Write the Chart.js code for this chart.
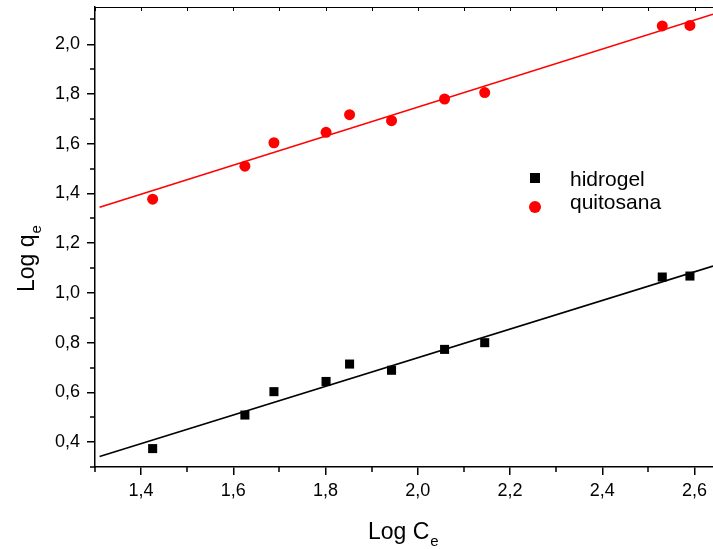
<!DOCTYPE html>
<html>
<head>
<meta charset="utf-8">
<script src="https://cdn.jsdelivr.net/npm/chart.js@4.4.1/dist/chart.umd.min.js"></script>
<style>
  html, body { margin: 0; padding: 0; background: #fff; overflow: hidden; }
  canvas { display: block; }
</style>
</head>
<body>
<canvas id="grafica" width="713" height="549"></canvas>
<script>
// datos
const logCe = [1.425, 1.625, 1.688, 1.801, 1.852, 1.943, 2.058, 2.145, 2.530, 2.590];
const logQeHidrogel = [0.374, 0.509, 0.603, 0.644, 0.714, 0.689, 0.773, 0.800, 1.064, 1.068];
const logQeQuitosana = [1.377, 1.510, 1.604, 1.646, 1.717, 1.693, 1.780, 1.806, 2.074, 2.076];

// rectas de ajuste (extremos)
const ajusteX = [1.31, 2.64];
const ajusteHidrogel = [0.342, 1.108];
const ajusteQuitosana = [1.345, 2.121];

const ticksX = [1.4, 1.6, 1.8, 2.0, 2.2, 2.4, 2.6];
const ticksY = [0.4, 0.6, 0.8, 1.0, 1.2, 1.4, 1.6, 1.8, 2.0];

const fmt = v => Number(v).toFixed(1).replace('.', ',');
const puntos = (xs, ys) => xs.map((x, i) => ({ x: x, y: ys[i] }));

Chart.defaults.font.family = '"Liberation Sans", Arial, sans-serif';
Chart.defaults.color = '#000';

function textoSub(ctx, main, sub, size, subSize) {
  ctx.font = size + 'px "Liberation Sans", Arial, sans-serif';
  ctx.fillText(main, 0, 0);
  const w = ctx.measureText(main).width;
  ctx.font = subSize + 'px "Liberation Sans", Arial, sans-serif';
  ctx.fillText(sub, w + 1, 7);
}

const marco = {
  id: 'marco',
  afterDraw(chart) {
    const { ctx, chartArea: a, scales: { x, y } } = chart;
    ctx.save();
    ctx.strokeStyle = '#000';
    ctx.lineWidth = 1;

    // borde superior con marcas hacia dentro
    ctx.beginPath();
    ctx.moveTo(a.left, a.top + 0.5);
    ctx.lineTo(a.right, a.top + 0.5);
    for (let v = 1.3; v <= x.max + 1e-9; v += 0.1) {
      const px = Math.round(x.getPixelForValue(v)) + 0.5;
      ctx.moveTo(px, a.top);
      ctx.lineTo(px, a.top + 4);
    }
    ctx.stroke();

    // marcas menores
    ctx.lineWidth = 1.5;
    ctx.beginPath();
    ticksX.forEach(v => {
      const px = Math.round(x.getPixelForValue(v - 0.1));
      ctx.moveTo(px, a.bottom);
      ctx.lineTo(px, a.bottom + 5);
    });
    ticksY.forEach(v => {
      [v - 0.1, v + 0.1].forEach(m => {
        if (m > y.max) return;
        const py = Math.round(y.getPixelForValue(m));
        ctx.moveTo(a.left, py);
        ctx.lineTo(a.left - 5, py);
      });
    });
    ctx.stroke();

    // titulos de ejes
    ctx.fillStyle = '#000';
    ctx.textAlign = 'left';
    ctx.textBaseline = 'alphabetic';
    ctx.save();
    ctx.translate(368, 539);
    textoSub(ctx, 'Log C', 'e', 23, 15);
    ctx.restore();

    ctx.save();
    ctx.translate(34, 292);
    ctx.rotate(-Math.PI / 2);
    textoSub(ctx, 'Log q', 'e', 23, 15);
    ctx.restore();

    // leyenda
    const ds = chart.data.datasets;
    ctx.font = '21px "Liberation Sans", Arial, sans-serif';
    ctx.fillStyle = ds[0].backgroundColor;
    ctx.fillRect(530, 173, 10, 10);
    ctx.fillStyle = '#000';
    ctx.fillText(ds[0].label, 570, 186);
    ctx.fillStyle = ds[1].backgroundColor;
    ctx.beginPath();
    ctx.arc(535, 207, 6, 0, Math.PI * 2);
    ctx.fill();
    ctx.fillStyle = '#000';
    ctx.fillText(ds[1].label, 570, 209);

    ctx.restore();
  }
};

new Chart(document.getElementById('grafica'), {
  type: 'scatter',
  data: {
    datasets: [
      {
        label: 'hidrogel',
        data: puntos(logCe, logQeHidrogel),
        pointStyle: 'rect',
        pointRadius: 6.4,
        backgroundColor: '#000',
        borderColor: '#000',
        borderWidth: 0
      },
      {
        label: 'quitosana',
        data: puntos(logCe, logQeQuitosana),
        pointStyle: 'circle',
        pointRadius: 5.5,
        backgroundColor: '#ff0000',
        borderColor: '#ff0000',
        borderWidth: 0
      },
      {
        label: 'ajuste hidrogel',
        data: puntos(ajusteX, ajusteHidrogel),
        showLine: true,
        pointRadius: 0,
        borderColor: '#000',
        borderWidth: 1.6
      },
      {
        label: 'ajuste quitosana',
        data: puntos(ajusteX, ajusteQuitosana),
        showLine: true,
        pointRadius: 0,
        borderColor: '#ff0000',
        borderWidth: 1.6
      }
    ]
  },
  options: {
    responsive: false,
    animation: false,
    layout: { autoPadding: false, padding: { top: 7, left: 0, right: 0, bottom: 0 } },
    plugins: {
      legend: { display: false },
      tooltip: { enabled: false }
    },
    scales: {
      x: {
        type: 'linear',
        min: 1.3,
        max: 2.64,
        border: { display: true, color: '#000', width: 1.5 },
        grid: { drawOnChartArea: false, color: '#000', lineWidth: 1.5, tickLength: 8 },
        ticks: { font: { size: 18 }, color: '#000', padding: 5, maxRotation: 0, autoSkip: false, callback: v => fmt(v) },
        afterBuildTicks: s => { s.ticks = ticksX.map(v => ({ value: v })); },
        afterFit: s => { s.height = 82; s.paddingLeft = 0; s.paddingRight = 0; }
      },
      y: {
        type: 'linear',
        min: 0.3,
        max: 2.15,
        border: { display: true, color: '#000', width: 1.5 },
        grid: { drawOnChartArea: false, color: '#000', lineWidth: 1.5, tickLength: 8 },
        ticks: { font: { size: 18 }, color: '#000', padding: 7, autoSkip: false, callback: v => fmt(v) },
        afterBuildTicks: s => { s.ticks = ticksY.map(v => ({ value: v })); },
        afterFit: s => { s.width = 95; s.paddingTop = 0; s.paddingBottom = 0; }
      }
    }
  },
  plugins: [marco]
});
</script>
</body>
</html>
